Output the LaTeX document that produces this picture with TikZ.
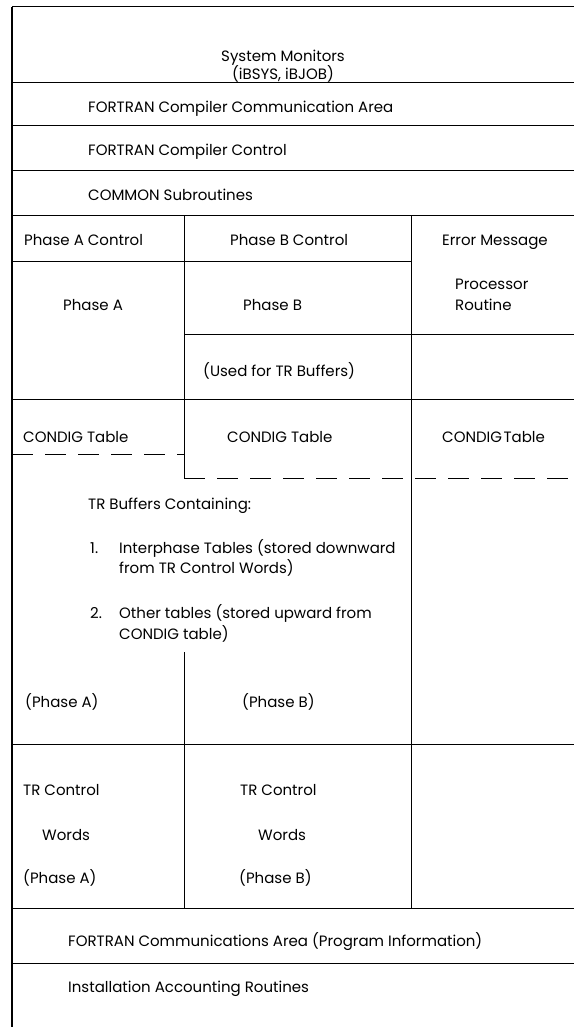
\documentclass[tikz,border=0pt]{standalone}
\usepackage{fontspec}
\setmainfont{Poppins}
\begin{document}
\begin{tikzpicture}[x=1pt,y=-1pt,
  lbl/.style={inner sep=0pt, anchor=base west, yshift=-5.2pt, font=\fontsize{15}{18}\selectfont},
  clbl/.style={lbl, anchor=base},
  wall/.style={line width=1pt},
  faint wall/.style={line width=0.7pt},
  dwall/.style={line width=1pt, dash pattern=on 21pt off 12pt}]
\useasboundingbox (0,0) rectangle (574,1027);
% horizontal rules
\draw[wall] (12,7) -- (574,7);
\draw[wall] (12,83) -- (574,83);
\draw[wall] (12,126) -- (574,126);
\draw[wall] (12,171) -- (574,171);
\draw[wall] (12,215) -- (574,215);
\draw[wall] (12,261) -- (411,261);
\draw[wall] (184,334) -- (574,334);
\draw[wall] (12,399) -- (574,399);
\draw[dwall] (12,454) -- (184,454);
\draw[dwall] (184,478) -- (574,478);
\draw[wall] (12,744) -- (574,744);
\draw[wall] (12,908) -- (574,908);
\draw[wall] (12,963) -- (574,963);
% vertical rules
\draw[line width=1.2pt] (12,7) -- (12,1027);
\draw[wall] (184,215) -- (184,478);
\draw[wall] (184,652) -- (184,908);
\draw[wall] (411,215) -- (411,399);
\draw[faint wall] (411,399) -- (411,908);
% texts
\node[clbl] (sysmon) at (283,56) {System Monitors};
\node[clbl] (sysmon2) at (283,74) {(iBSYS, iBJOB)};
\node[lbl] (fca) at (88,107) {FORTRAN Compiler Communication Area};
\node[lbl] (fcc) at (88,150) {FORTRAN Compiler Control};
\node[lbl] (common) at (88,195) {COMMON Subroutines};
\node[lbl] (pac) at (24,240) {Phase A Control};
\node[lbl] (pbc) at (230,240) {Phase B Control};
\node[lbl] (emp1) at (442,240) {Error Message};
\node[lbl] (emp2) at (455,284) {Processor};
\node[lbl] (emp3) at (455,305) {Routine};
\node[lbl] (pha) at (63,305) {Phase A};
\node[lbl] (phb) at (243,305) {Phase B};
\node[lbl] (used) at (203,371) {(Used for TR Buffers)};
\node[lbl] (conda) at (23,437) {CONDIG Table};
\node[lbl] (condb) at (227,437) {CONDIG Table};
\node[lbl] (condc) at (442,437) {CONDIG\hspace{0.1em}Table};
\node[lbl] (trb) at (88,504) {TR Buffers Containing:};
\node[lbl] (n1) at (90,548) {1.};
\node[lbl] (i1a) at (119,548) {Interphase Tables (stored downward};
\node[lbl] (i1b) at (119,568) {from TR Control Words)};
\node[lbl] (n2) at (90,613) {2.};
\node[lbl] (i2a) at (119,613) {Other tables (stored upward from};
\node[lbl] (i2b) at (119,634) {CONDIG table)};
\node[lbl] (bpa) at (25,702) {(Phase A)};
\node[lbl] (bpb) at (242,702) {(Phase B)};
\node[lbl] (tra1) at (23,790) {TR Control};
\node[lbl] (tra2) at (42,835) {Words};
\node[lbl] (tra3) at (23,878) {(Phase A)};
\node[lbl] (trb1) at (240,790) {TR Control};
\node[lbl] (trb2) at (258,835) {Words};
\node[lbl] (trb3) at (239,878) {(Phase B)};
\node[lbl] (fcomm) at (68,941) {FORTRAN Communications Area (Program Information)};
\node[lbl] (inst) at (68,987) {Installation Accounting Routines};
\end{tikzpicture}
\end{document}
